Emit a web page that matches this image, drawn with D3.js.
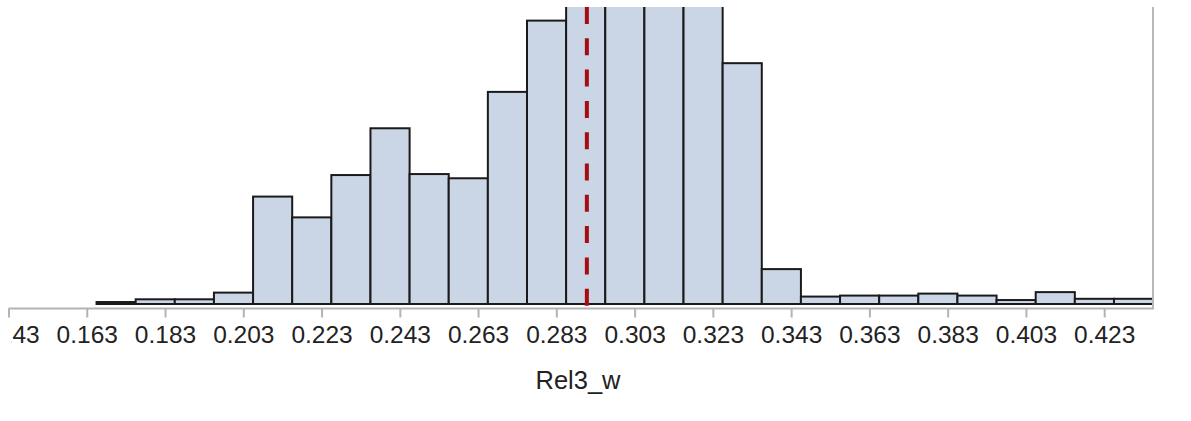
<!DOCTYPE html>
<html>
<head>
<meta charset="utf-8">
<script src="https://cdn.jsdelivr.net/npm/d3@7"></script>
<style>
  body { margin: 0; background: #fff; }
  svg { display: block; font-family: "Liberation Sans", Arial, sans-serif; }
</style>
</head>
<body>
<div id="chart"></div>
<script>
// bin lower edges (width 0.01) and bar heights (percent)
var binEdges = [0.1655, 0.1755, 0.1855, 0.1955, 0.2055, 0.2155, 0.2255, 0.2355, 0.2455,
    0.2555, 0.2655, 0.2755, 0.2855, 0.2955, 0.3055, 0.3155, 0.3255, 0.3355, 0.3455,
    0.3555, 0.3655, 0.3755, 0.3855, 0.3955, 0.4055, 0.4155, 0.4255];
var binHeights = [0.08, 0.19, 0.19, 0.46, 4.34, 3.50, 5.21, 7.10, 5.25, 5.08, 8.57, 11.45,
    14.2, 16.5, 15.1, 13.4, 9.73, 1.41, 0.30, 0.34, 0.34, 0.42, 0.34, 0.16, 0.48, 0.21, 0.21];
var binWidth = 0.01;
var tickValues = [0.143, 0.163, 0.183, 0.203, 0.223, 0.243, 0.263, 0.283, 0.303, 0.323,
    0.343, 0.363, 0.383, 0.403, 0.423];
var meanValue = 0.2908;
var xLabel = "Rel3_w";

var width = 1191, height = 421;
var top_y = 7, base_y = 304, axis_y = 308.5;

var svg = d3.select("#chart").append("svg")
    .attr("width", width)
    .attr("height", height);

var xScale = d3.scaleLinear().domain([0.143, 0.4356]).range([8.5, 1153.5]);
var yScale = d3.scaleLinear().domain([0, 12]).range([base_y, top_y]);

svg.append("clipPath").attr("id", "plotclip")
    .append("rect")
    .attr("x", 0).attr("y", top_y)
    .attr("width", 1153.5).attr("height", base_y - top_y + 2);

// the first tick label is cut at the left edge of the axis
svg.append("clipPath").attr("id", "firstlabel")
    .append("rect")
    .attr("x", 2.5).attr("y", -5)
    .attr("width", 80).attr("height", 60);

var bins = binEdges.map(function (e, i) {
    return { x0: e, x1: e + binWidth, h: binHeights[i] };
});

var barG = svg.append("g").attr("clip-path", "url(#plotclip)");

barG.selectAll("rect.bar").data(bins)
    .enter().append("rect")
    .attr("class", "bar")
    .attr("x", function (d) { return xScale(d.x0); })
    .attr("y", function (d) { return yScale(d.h); })
    .attr("width", function (d) { return xScale(d.x1) - xScale(d.x0); })
    .attr("height", function (d) { return base_y - yScale(d.h); })
    .style("fill", "#cad5e5")
    .style("stroke", "#1a1a1a")
    .style("stroke-width", 2);

// mean line
svg.append("line")
    .attr("x1", xScale(meanValue)).attr("x2", xScale(meanValue))
    .attr("y1", top_y).attr("y2", 307)
    .style("stroke", "#a50d12")
    .style("stroke-width", 4)
    .style("stroke-dasharray", "17,14.3");

// right frame line
svg.append("line")
    .attr("x1", 1153).attr("x2", 1153)
    .attr("y1", top_y).attr("y2", axis_y)
    .style("stroke", "#b8b8b8")
    .style("stroke-width", 2);

// x axis
var xAxis = d3.axisBottom(xScale)
    .tickValues(tickValues)
    .tickFormat(d3.format(".3f"))
    .tickSizeInner(9)
    .tickSizeOuter(0)
    .tickPadding(8);

var axisG = svg.append("g")
    .attr("transform", "translate(0," + axis_y + ")")
    .call(xAxis);

axisG.select(".domain")
    .attr("d", "M" + xScale(0.143) + ",0H1154")
    .style("stroke", "#b3b3b3")
    .style("stroke-width", 2);
axisG.selectAll(".tick line")
    .style("stroke", "#b3b3b3")
    .style("stroke-width", 2);
axisG.selectAll(".tick text")
    .style("font-family", "'Liberation Sans', Arial, sans-serif")
    .style("font-size", "24.5px")
    .style("fill", "#222");
axisG.select(".tick text").attr("clip-path", "url(#firstlabel)");

svg.append("text")
    .attr("x", 578)
    .attr("y", 389)
    .attr("text-anchor", "middle")
    .style("font-size", "25.5px")
    .style("fill", "#222")
    .text(xLabel);
</script>
</body>
</html>
